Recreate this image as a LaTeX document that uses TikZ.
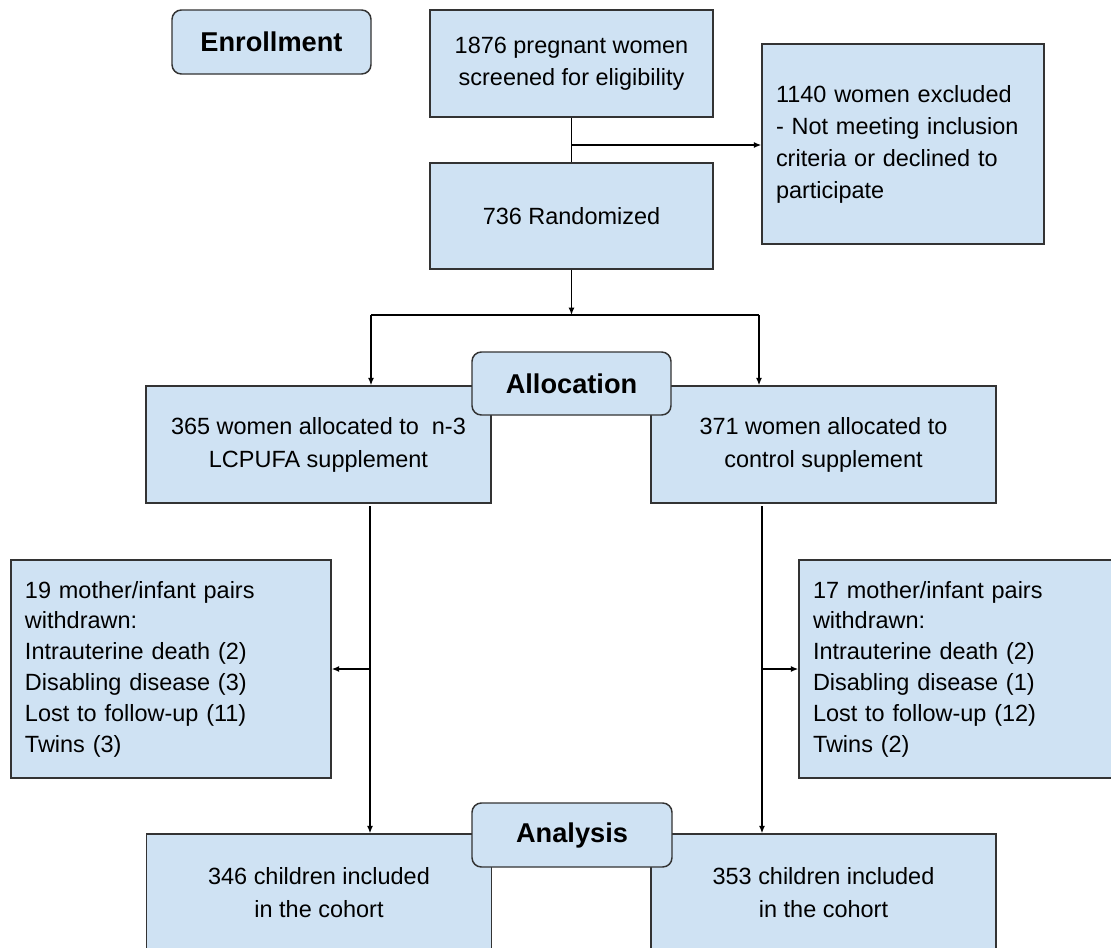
\documentclass[tikz,border=0pt]{standalone}
\usepackage{fontspec}
\setmainfont{Liberation Sans}
\usetikzlibrary{arrows.meta}
\definecolor{boxblue}{HTML}{CFE2F3}
\definecolor{edgegrey}{HTML}{333333}
\tikzset{
  flowbox/.style={draw=edgegrey, line width=1.1pt, fill=boxblue, inner sep=0pt,
    align=center, font=\fontsize{17.6}{24}\selectfont},
  listbox/.style={flowbox, align=left, inner xsep=10.5pt},
  stagebox/.style={flowbox, rounded corners=7pt, font=\fontsize{20.4}{24}\selectfont\bfseries},
  link/.style={line width=1pt, black},
  arrowlink/.style={link, -{Latex[length=5.5pt,width=4.5pt]}}
}

\begin{document}
\begin{tikzpicture}[x=0.75pt, y=-0.75pt]
			%%%%% START %%%%%
			
			\useasboundingbox (0,0) rectangle (1111,947);
			\fill[white] (0,0) rectangle (1111,947);
			\clip (0,0) rectangle (1111,947);
			
			%% enrollment
			\node[stagebox, minimum width=149.25pt, minimum height=48pt] (enroll) at (271.5,42) {Enrollment};
			\node[flowbox, minimum width=212.25pt, minimum height=80.25pt] (screen) at (571.5,63.5) {1876 pregnant women\\screened for eligibility};
			\node[flowbox, minimum width=212.25pt, minimum height=79.5pt] (rand) at (571.5,216) {736 Randomized};
			\node[listbox, text width=190.5pt, minimum height=150pt] (excl) at (903,144) {1140 women excluded\\- Not meeting inclusion\\criteria or declined to\\participate};
			
			%% allocation
			\node[flowbox, minimum width=258.75pt, minimum height=87.75pt, font=\fontsize{17.6}{24.75}\selectfont] (armA) at (318.5,444.5) {365 women allocated to~ n-3\\LCPUFA supplement};
			\node[flowbox, minimum width=258.75pt, minimum height=87.75pt, font=\fontsize{17.6}{24.75}\selectfont] (armB) at (823.5,444.5) {371 women allocated to\\control supplement};
			\node[stagebox, minimum width=149.25pt, minimum height=47.25pt] (alloc) at (571.5,383.5) {Allocation};
			
			\node[listbox, text width=219pt, minimum height=163.5pt, font=\fontsize{17.6}{23.1}\selectfont] (lossA) at (171,669) {19 mother/infant pairs\\withdrawn:\\Intrauterine death (2)\\Disabling disease (3)\\Lost to follow-up (11)\\Twins (3)};
			\node[listbox, text width=219pt, minimum height=163.5pt, font=\fontsize{17.6}{23.1}\selectfont] (lossB) at (959,669) {17 mother/infant pairs\\withdrawn:\\Intrauterine death (2)\\Disabling disease (1)\\Lost to follow-up (12)\\Twins (2)};
			
			%% analysis
			\node[flowbox, minimum width=258.75pt, minimum height=87.75pt, font=\fontsize{17.6}{24.75}\selectfont] (cohortA) at (319,892.5) {346 children included\\in the cohort};
			\node[flowbox, minimum width=258.75pt, minimum height=87.75pt, font=\fontsize{17.6}{24.75}\selectfont] (cohortB) at (823.5,892.5) {353 children included\\in the cohort};
			\node[stagebox, minimum width=150pt, minimum height=48pt] (analysis) at (572,835) {Analysis};
			
			%% connectors
			\draw[link] (screen.south) -- (rand.north);
			\coordinate (gate) at (571.5,145);
			\draw[arrowlink] (gate) -- (gate -| excl.west);
			
			\coordinate (fork) at (571.5,315);
			\coordinate (forkA) at (371,315);
			\coordinate (forkB) at (759,315);
			\draw[arrowlink] (rand.south) -- (fork);
			\draw[link] (forkA) -- (forkB);
			\draw[arrowlink] (forkA) -- (forkA |- armA.north);
			\draw[arrowlink] (forkB) -- (forkB |- armB.north);
			
			\coordinate (dropA) at (370,506);
			\coordinate (dropB) at (762,506);
			\draw[arrowlink] (dropA) -- (dropA |- cohortA.north);
			\draw[arrowlink] (dropB) -- (dropB |- cohortB.north);
			\draw[arrowlink] (dropA |- lossA.east) -- (lossA.east);
			\draw[arrowlink] (dropB |- lossB.west) -- (lossB.west);
			
			%%%%% END %%%%%
		\end{tikzpicture}
\end{document}
